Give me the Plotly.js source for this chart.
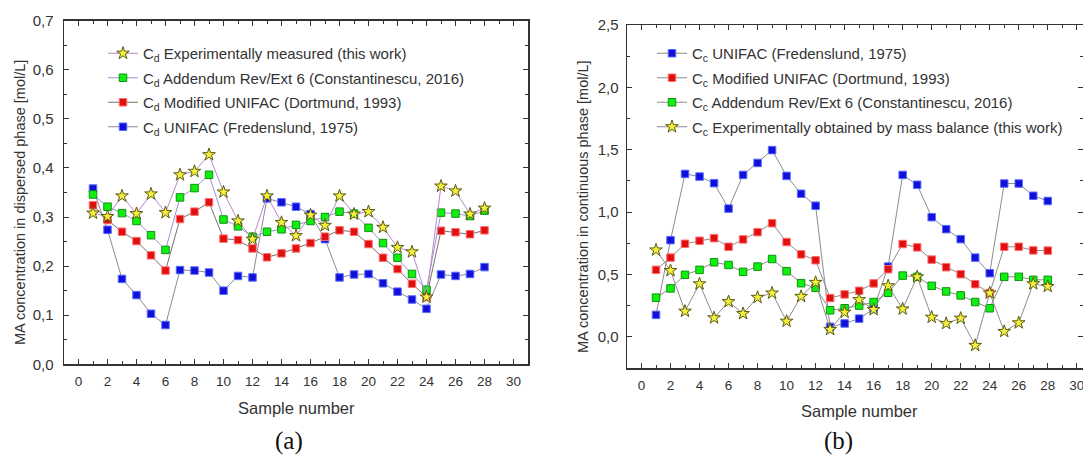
<!DOCTYPE html>
<html>
<head>
<meta charset="utf-8">
<script src="https://cdn.plot.ly/plotly-3.0.1.min.js"></script>
<style>html,body{margin:0;padding:0;background:#fff;}#chart{width:1083px;height:464px;}</style>
</head>
<body>
<div id="chart"></div>
<script>
// ---- data ----
const samples = [1,2,3,4,5,6,7,8,9,10,11,12,13,14,15,16,17,18,19,20,21,22,23,24,25,26,27,28];

// (a) dispersed phase
const cdExp = [0.308,0.301,0.343,0.307,0.347,0.309,0.386,0.393,0.427,0.351,0.292,0.255,0.343,0.289,0.262,0.304,0.283,0.343,0.306,0.311,0.279,0.238,0.229,0.137,0.363,0.353,0.306,0.318];
const cdAdd = [0.346,0.321,0.308,0.292,0.263,0.233,0.340,0.359,0.386,0.295,0.281,0.260,0.270,0.275,0.284,0.292,0.300,0.311,0.307,0.278,0.247,0.217,0.184,0.152,0.309,0.307,0.302,0.313];
const cdMod = [0.324,0.294,0.270,0.251,0.222,0.191,0.296,0.311,0.330,0.256,0.253,0.236,0.218,0.226,0.236,0.247,0.260,0.273,0.270,0.245,0.217,0.194,0.164,0.137,0.272,0.269,0.265,0.273];
const cdUni = [0.358,0.274,0.174,0.141,0.103,0.080,0.192,0.191,0.187,0.150,0.180,0.177,0.338,0.330,0.321,0.306,0.255,0.177,0.183,0.184,0.165,0.148,0.132,0.113,0.183,0.180,0.184,0.198];

// (b) continuous phase
const ccUni = [0.176,0.775,1.306,1.285,1.232,1.028,1.298,1.394,1.497,1.290,1.147,1.051,0.080,0.107,0.146,0.223,0.563,1.298,1.219,0.959,0.863,0.783,0.635,0.510,1.229,1.229,1.131,1.089];
const ccMod = [0.537,0.635,0.746,0.770,0.791,0.722,0.781,0.839,0.911,0.760,0.661,0.614,0.311,0.340,0.369,0.428,0.542,0.744,0.717,0.619,0.558,0.502,0.422,0.351,0.722,0.722,0.693,0.691];
const ccAdd = [0.314,0.388,0.497,0.537,0.598,0.576,0.521,0.563,0.624,0.526,0.430,0.393,0.213,0.229,0.250,0.279,0.353,0.491,0.481,0.409,0.364,0.332,0.279,0.229,0.481,0.481,0.457,0.457];
const ccExp = [0.696,0.531,0.205,0.425,0.152,0.282,0.186,0.316,0.351,0.125,0.324,0.436,0.059,0.197,0.298,0.218,0.409,0.223,0.481,0.157,0.107,0.149,-0.069,0.351,0.043,0.112,0.425,0.404];

const namesA = [
  'C<sub>d</sub> Experimentally measured (this work)',
  'C<sub>d</sub> Addendum Rev/Ext 6 (Constantinescu, 2016)',
  'C<sub>d</sub> Modified UNIFAC (Dortmund, 1993)',
  'C<sub>d</sub> UNIFAC (Fredenslund, 1975)'
];
const namesB = [
  'C<sub>c</sub> UNIFAC (Fredenslund, 1975)',
  'C<sub>c</sub> Modified UNIFAC (Dortmund, 1993)',
  'C<sub>c</sub> Addendum Rev/Ext 6 (Constantinescu, 2016)',
  'C<sub>c</sub> Experimentally obtained by mass balance (this work)'
];
const xTitle = 'Sample number';
const yTitleA = 'MA concentration in dispersed phase [mol/L]';
const yTitleB = 'MA concentration in continuous phase [mol/L]';

// ---- styles ----
const FONT = 'Liberation Sans, Arial, sans-serif';
const sq = (fill, edge) => ({symbol:'square', size:7.5, color:fill, line:{color:edge, width:1}});
const star = {symbol:'star', size:9.5, color:'#f4f03c', line:{color:'#5a5a10', width:1}};
const mBlue = sq('#1010d8', '#5a6aff');
const mRed = sq('#e01010', '#ff7070');
const mGreen = sq('#10f010', '#109010');

function tr(y, name, marker, lineColor, xa, ya, legend, rank, grp) {
  return {x: samples, y: y, name: name, type: 'scatter', mode: 'lines+markers',
    marker: marker, line: {color: lineColor, width: 1},
    xaxis: xa, yaxis: ya, legend: legend, legendrank: rank, legendgroup: grp};
}

const data = [
  tr(cdUni, namesA[3], mBlue, '#8a8a9a', 'x', 'y', 'legend', 4, 'a4'),
  tr(cdMod, namesA[2], mRed, '#7a6e6e', 'x', 'y', 'legend', 3, 'a3'),
  tr(cdAdd, namesA[1], mGreen, '#9a94d0', 'x', 'y', 'legend', 2, 'a2'),
  tr(cdExp, namesA[0], star, '#bb88c8', 'x', 'y', 'legend', 1, 'a1'),
  tr(ccUni, namesB[0], mBlue, '#8c8c8c', 'x2', 'y2', 'legend2', 1, 'b1'),
  tr(ccMod, namesB[1], mRed, '#8c8c8c', 'x2', 'y2', 'legend2', 2, 'b2'),
  tr(ccAdd, namesB[2], mGreen, '#8c8c8c', 'x2', 'y2', 'legend2', 3, 'b3'),
  tr(ccExp, namesB[3], star, '#8c8c8c', 'x2', 'y2', 'legend2', 4, 'b4')
];

const W = 1083, H = 464;
const axisBase = {
  showline: true, linecolor: '#333', linewidth: 1.5, mirror: 'ticks',
  ticks: 'inside', ticklen: 5, tickwidth: 1, tickcolor: '#333',
  showgrid: false, zeroline: false, color: '#333', automargin: false
};
const xBase = Object.assign({}, axisBase, {
  tick0: 0, dtick: 2, tickfont: {family: FONT, size: 13.5, color: '#333'},
  minor: {dtick: 1, ticks: 'inside', ticklen: 3, tickcolor: '#333', showgrid: false},
  ticklabelstandoff: 4, ticklabeloverflow: 'allow'
});
const yBase = Object.assign({}, axisBase, {
  tickformat: '.1f', tickfont: {family: FONT, size: 15, color: '#333'}
});
const legBase = {xanchor: 'left', yanchor: 'top', bgcolor: 'rgba(0,0,0,0)',
  font: {family: FONT, size: 15, color: '#333'}, traceorder: 'grouped', tracegroupgap: 2, borderwidth: 0};

const layout = {
  width: W, height: H,
  margin: {l: 0, r: 0, t: 0, b: 0},
  paper_bgcolor: '#fff', plot_bgcolor: '#fff',
  separators: ',.',
  font: {family: FONT, color: '#333'},
  showlegend: true,
  xaxis: Object.assign({}, xBase, {domain: [64/W, 528/W], range: [-1, 31], anchor: 'y'}),
  yaxis: Object.assign({}, yBase, {domain: [1-364.3/H, 1-20.7/H], range: [0, 0.7], dtick: 0.1, tick0: 0,
    minor: {dtick: 0.05, ticks: 'inside', ticklen: 3, tickcolor: '#333', showgrid: false}, anchor: 'x', ticklabelstandoff: 6}),
  xaxis2: Object.assign({}, xBase, {domain: [627/W, 1], range: [-1, 30.43], anchor: 'y2'}),
  yaxis2: Object.assign({}, yBase, {domain: [1-368/H, 1-25/H], range: [-0.25, 2.5], dtick: 0.5, tick0: 0,
    minor: {dtick: 0.25, ticks: 'inside', ticklen: 3, tickcolor: '#333', showgrid: false}, anchor: 'x2', ticklabelstandoff: 4}),
  legend: Object.assign({}, legBase, {x: 103/W, y: 1-37/H}),
  legend2: Object.assign({}, legBase, {x: 652/W, y: 1-37/H}),
  annotations: [
    {text: xTitle, xref: 'paper', yref: 'paper', x: 296/W, y: 1-408/H, xanchor: 'center', yanchor: 'middle',
      showarrow: false, font: {family: FONT, size: 16.5, color: '#333'}},
    {text: xTitle, xref: 'paper', yref: 'paper', x: 859/W, y: 1-411/H, xanchor: 'center', yanchor: 'middle',
      showarrow: false, font: {family: FONT, size: 16.5, color: '#333'}},
    {text: yTitleA, xref: 'paper', yref: 'paper', x: 20/W, y: 1-203/H, xanchor: 'center', yanchor: 'middle',
      textangle: -90, showarrow: false, font: {family: FONT, size: 14.5, color: '#333'}},
    {text: yTitleB, xref: 'paper', yref: 'paper', x: 583/W, y: 1-207/H, xanchor: 'center', yanchor: 'middle',
      textangle: -90, showarrow: false, font: {family: FONT, size: 14.5, color: '#333'}},
    {text: '(a)', xref: 'paper', yref: 'paper', x: 289/W, y: 1-441/H, xanchor: 'center', yanchor: 'middle',
      showarrow: false, font: {family: 'Liberation Serif, Times New Roman, serif', size: 25, color: '#111'}},
    {text: '(b)', xref: 'paper', yref: 'paper', x: 838/W, y: 1-441/H, xanchor: 'center', yanchor: 'middle',
      showarrow: false, font: {family: 'Liberation Serif, Times New Roman, serif', size: 25, color: '#111'}}
  ]
};

Plotly.newPlot('chart', data, layout, {staticPlot: true, displayModeBar: false});
</script>
</body>
</html>
